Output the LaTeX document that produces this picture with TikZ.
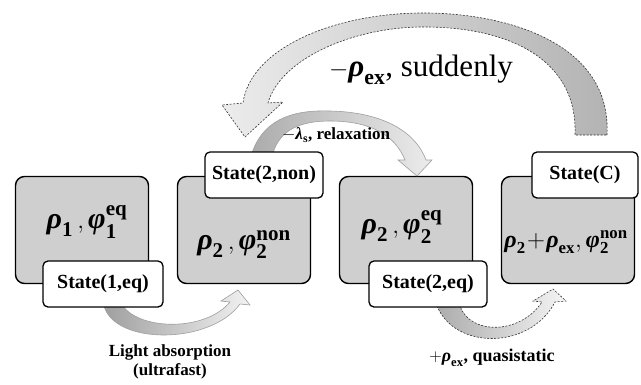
\documentclass[tikz,border=0pt]{standalone}
\usepackage{amsmath}
\usepackage{fontspec}
\setmainfont{Liberation Serif}
\usetikzlibrary{positioning}

\newcommand{\grk}[1]{\text{\bfseries\itshape #1}}
\newcommand{\bup}[1]{\text{\bfseries #1}}

\begin{document}
\begin{tikzpicture}[
        x = 1pt, y = -1pt,
        node distance = 162pt,
        on grid,
        bigbox/.style = {draw = black, line width = 1.4pt, rounded corners = 9pt, fill = gray!38,
                         minimum width = 133pt, minimum height = 107pt},
        tag/.style = {draw = black, line width = 1.3pt, rounded corners = 5pt, fill = white,
                      minimum height = 46pt, inner sep = 2pt, font = \fontsize{20}{24}\selectfont\bfseries},
        fatarrow/.style = {draw = gray!75, line width = 0.6pt},
        dasharrow/.style = {draw = gray!40!black, line width = 0.6pt, dash pattern = on 2pt off 1.5pt},
        mathtext/.style = {font = \fontsize{30}{34}\selectfont, inner sep = 0pt},
        caption/.style = {font = \fontsize{17}{19}\selectfont\bfseries, align = center, inner sep = 0pt}
    ]

      \useasboundingbox (0,0) rectangle (641,384);

      % the four states
      \node[bigbox] (b1) at (82,230) {};
      \node[bigbox] (b2) [right = of b1] {};
      \node[bigbox] (b3) [right = of b2] {};
      \node[bigbox] (b4) [right = of b3] {};

      \node[mathtext] (m1) at (87,222) {$\grk{ρ}_{\bup{1}}\,,\grk{φ}_{\bup{1}}^{\bup{eq}}$};
      \node[mathtext] (m2) at (244,245) {$\grk{ρ}_{\bup{2}}\,,\grk{φ}_{\bup{2}}^{\bup{non}}$};
      \node[mathtext] (m3) at (402,227) {$\grk{ρ}_{\bup{2}}\,,\grk{φ}_{\bup{2}}^{\bup{eq}}$};
      \node[mathtext, font = \fontsize{24}{28}\selectfont] (m4) at (566,242)
            {$\grk{ρ}_{\bup{2}}\!+\!\grk{ρ}_{\bup{ex}},\grk{φ}_{\bup{2}}^{\bup{non}}$};

      % fat arrows
      \path[fatarrow, left color = gray!75, right color = gray!10]
            (104,306) .. controls (115,345) and (210,345) .. (240,304) -- (250,305)
            -- (238,290) -- (221,301) -- (230,302)
            .. controls (205,332) and (140,330) .. (123,306) -- cycle;

      \path[dasharrow, left color = gray!65, right color = gray!8]
            (437,306) .. controls (455,350) and (530,350) .. (555,302) -- (566,301)
            -- (553,289) -- (533,301) -- (542,302)
            .. controls (520,335) and (470,335) .. (460,306) -- cycle;

      \path[fatarrow, left color = gray!65, right color = gray!15]
            (252,153) .. controls (265,115) and (300,110) .. (330,111)
            .. controls (380,112) and (415,130) .. (426,160) -- (432,160)
            -- (417,176) -- (398,160) -- (405,160)
            .. controls (395,135) and (370,121) .. (330,121)
            .. controls (300,121) and (280,130) .. (273,153) -- cycle;

      \path[dasharrow, left color = gray!15, right color = gray!60]
            (607,135) .. controls (612,40) and (500,12) .. (420,13)
            .. controls (330,14) and (250,50) .. (243,103) -- (222,105)
            -- (245,137) -- (283,102) -- (268,103)
            .. controls (280,60) and (350,28) .. (420,27)
            .. controls (510,26) and (578,60) .. (575,135) -- cycle;

      % state tags
      \node[tag, minimum width = 120pt] (s1) at (103,284) {State(1,eq)};
      \node[tag, minimum width = 118pt] (s2) at (264,175) {State(2,non)};
      \node[tag, minimum width = 118pt] (s3) at (428,284) {State(2,eq)};
      \node[tag, minimum width = 106pt] (s4) at (585,175) {State(C)};

      % labels
      \node[caption] (absorb) at (170,362) {Light absorption\\(ultrafast)};
      \node[caption, font = \fontsize{18}{20}\selectfont\bfseries] (quasi) at (492,358)
            {$+\grk{ρ}_{\bup{ex}}$, quasistatic};
      \node[caption] (relax) at (336,135) {$-\grk{λ}_{\bup{s}}$, relaxation};
      \node[caption, font = \fontsize{31}{34}\selectfont] (sudden) at (421,70)
            {$-\grk{ρ}_{\bup{ex}}$, suddenly};

    \end{tikzpicture}
\end{document}
